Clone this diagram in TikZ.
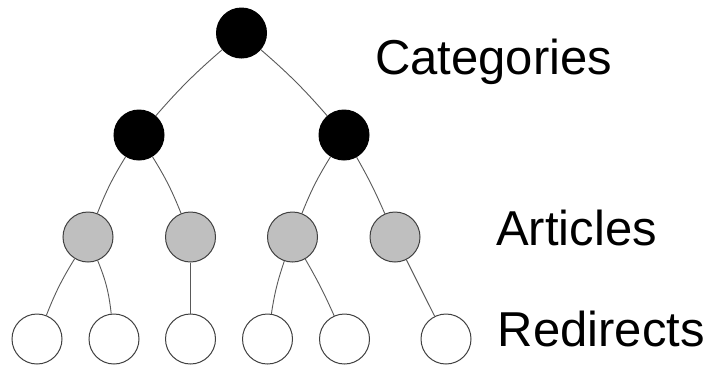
\documentclass[tikz,border=0pt]{standalone}
\usepackage{fontspec}
\setmainfont{Liberation Sans}
\begin{document}
\begin{tikzpicture}[x=1pt,y=-1pt,
  vtx/.style={circle,inner sep=0pt,minimum size=50pt,line width=1pt,draw=black!75},
  cat/.style={vtx,fill=black,draw=black},
  art/.style={vtx,fill=black!25},
  red/.style={vtx,fill=white},
  edge/.style={draw=black!65,line width=0.9pt},
  lbl/.style={anchor=base west,inner sep=0pt,font=\fontsize{49pt}{52pt}\selectfont}]
\useasboundingbox (0,0) rectangle (711,365);
\node[cat] (r) at (241.5,33) {};
\node[cat] (c1) at (139,135) {};
\node[cat] (c2) at (344,135) {};
\node[art] (a1) at (88,237) {};
\node[art] (a2) at (190.5,237) {};
\node[art] (a3) at (292.5,237) {};
\node[art] (a4) at (395,237) {};
\node[red] (w1) at (37,339) {};
\node[red] (w2) at (114,339) {};
\node[red] (w3) at (190.5,339) {};
\node[red] (w4) at (267.5,339) {};
\node[red] (w5) at (344.5,339) {};
\node[red] (w6) at (446,339) {};
\draw[edge] (r) to[bend right=4] (c1);
\draw[edge] (r) to[bend left=4] (c2);
\draw[edge] (c1) to[bend right=5] (a1);
\draw[edge] (c1) to[bend left=5] (a2);
\draw[edge] (c2) to[bend right=5] (a3);
\draw[edge] (c2) to[bend left=3] (a4);
\draw[edge] (a1) to[bend right=5] (w1);
\draw[edge] (a1) to[bend left=8] (w2);
\draw[edge] (a2) -- (w3);
\draw[edge] (a3) to[bend right=5] (w4);
\draw[edge] (a3) to[bend left=3] (w5);
\draw[edge] (a4) -- (w6);
\node[lbl] (tc) at (375,74) {Categories};
\node[lbl] (ta) at (496,245.5) {Articles};
\node[lbl] (tr) at (497.5,346.5) {Redirects};
\end{tikzpicture}
\end{document}
